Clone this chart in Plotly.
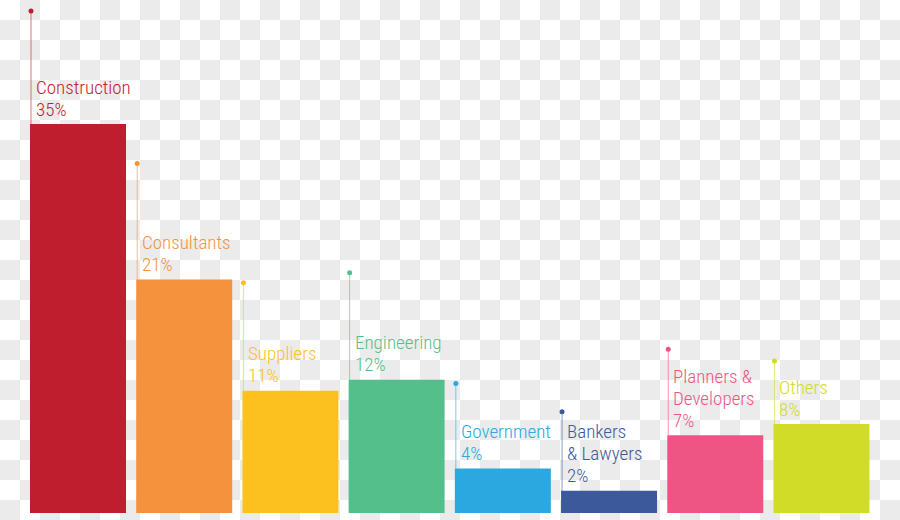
import plotly.graph_objects as go

# ---- data ----
categories = ["Construction", "Consultants", "Suppliers", "Engineering",
              "Government", "Bankers & Lawyers", "Planners & Developers", "Others"]
label_lines = [["Construction"], ["Consultants"], ["Suppliers"], ["Engineering"],
               ["Government"], ["Bankers", "& Lawyers"], ["Planners &", "Developers"], ["Others"]]
values = [35, 21, 11, 12, 4, 2, 7, 8]

# ---- styling ----
colors = ["#be1e2d", "#f5923e", "#fdc11f", "#55bf8c", "#2aa8df", "#3c5a9b", "#ef5584", "#d0dc27"]
stem_px = [113, 116, 108, 107, 85, 79, 86, 63]   # stem length above bar top (pixels)
FONT = "Roboto Condensed, Liberation Sans Narrow, sans-serif"

W, H = 900, 520
PX_PER_CAT = 106.21
PX_PER_UNIT = 11.114
BASE_PX = 513
X0 = -78 / PX_PER_CAT
X1 = X0 + W / PX_PER_CAT
Y0 = (BASE_PX - H) / PX_PER_UNIT
Y1 = BASE_PX / PX_PER_UNIT
BAR_W = 96 / PX_PER_CAT


def rgba(h, a):
    h = h.lstrip("#")
    r, g, b = int(h[0:2], 16), int(h[2:4], 16), int(h[4:6], 16)
    return f"rgba({r},{g},{b},{a})"


fig = go.Figure()

# checkered (transparent-look) background
nx, ny = W // 20, H // 20
z = [[(r + c) % 2 for c in range(nx)] for r in range(ny)]
fig.add_trace(go.Heatmap(z=z, colorscale=[[0, "#ffffff"], [1, "#ebebeb"]],
                         showscale=False, hoverinfo="skip", xaxis="x", yaxis="y"))

xs = list(range(len(categories)))
fig.add_trace(go.Bar(x=xs, y=values, width=BAR_W, marker=dict(color=colors, line=dict(width=0)),
                     xaxis="x2", yaxis="y2", hoverinfo="skip", showlegend=False))

annotations = []
for i, (v, c, lines, sp) in enumerate(zip(values, colors, label_lines, stem_px)):
    sx = i - BAR_W / 2 + 1 / PX_PER_CAT
    top = v + sp / PX_PER_UNIT
    fig.add_trace(go.Scatter(x=[sx, sx], y=[v, top], mode="lines",
                             line=dict(color=rgba(c, 0.6), width=1),
                             xaxis="x2", yaxis="y2", hoverinfo="skip", showlegend=False))
    fig.add_trace(go.Scatter(x=[sx], y=[top], mode="markers",
                             marker=dict(color=c, size=5),
                             xaxis="x2", yaxis="y2", hoverinfo="skip", showlegend=False))
    all_lines = lines + [f"{v}%"]
    n = len(all_lines)
    for k, t in enumerate(all_lines):
        annotations.append(dict(
            x=i, y=v, xref="x2", yref="y2", text=t, showarrow=False,
            xanchor="left", yanchor="middle", xshift=-44,
            yshift=15 + 22 * (n - 1 - k),
            font=dict(family=FONT, size=19, color=c, weight=300)))

fig.update_layout(
    width=W, height=H, margin=dict(l=0, r=0, t=0, b=0),
    paper_bgcolor="white", plot_bgcolor="white", showlegend=False,
    xaxis=dict(range=[-0.5, nx - 0.5], visible=False, fixedrange=True),
    yaxis=dict(range=[ny - 0.5, -0.5], visible=False, fixedrange=True),
    xaxis2=dict(range=[X0, X1], overlaying="x", visible=False, fixedrange=True),
    yaxis2=dict(range=[Y0, Y1], overlaying="y", visible=False, fixedrange=True),
    annotations=annotations,
)

fig.write_html("out.html", config={"displayModeBar": False})
